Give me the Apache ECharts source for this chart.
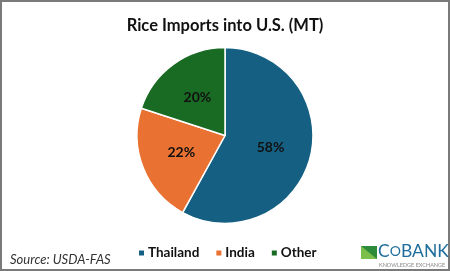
<!DOCTYPE html>
<html><head><meta charset="utf-8">
<script src="https://cdn.jsdelivr.net/npm/echarts@6/dist/echarts.min.js"></script>
<style>html,body{margin:0;padding:0;background:#fff}#c{width:450px;height:271px}</style>
</head><body><div id="c"></div>
<script>
const categories = ['Thailand', 'India', 'Other'];
const shares = [58, 22, 20];
const colors = ['#156082', '#E97132', '#196B24'];

const chart = echarts.init(document.getElementById('c'), null, {renderer: 'canvas'});
chart.setOption({
  animation: false,
  backgroundColor: '#fff',
  title: {
    text: 'Rice Imports into U.S. (MT)',
    left: 'center', top: 12,
    textStyle: {fontFamily: 'Lato', fontWeight: 'bold', fontSize: 16.5, color: '#111'}
  },
  legend: {
    data: categories,
    left: 132, top: 241,
    icon: 'rect', itemWidth: 7, itemHeight: 7, itemGap: 15,
    textStyle: {fontFamily: 'Lato', fontWeight: 'bold', fontSize: 13.5, color: '#111', padding: [0,0,0,-2]}
  },
  graphic: [
    {type: 'rect', shape: {x: 1, y: 1, width: 448, height: 269}, style: {fill: 'none', stroke: '#7a7a7a', lineWidth: 2}},
    {type: 'text', left: 10, top: 253, style: {text: 'Source: USDA-FAS', fontFamily: 'Lato', fontStyle: 'italic', fontSize: 13, fill: '#333'}},
    {type: 'polygon', shape: {points: [[361,246],[377,246],[377,259],[361,259]]}, style: {fill: '#2e8b3a'}},
    {type: 'polygon', shape: {points: [[361,246],[377,259],[361,259]]}, style: {fill: '#7bbf4a'}},
    {type: 'text', left: 378, top: 242, style: {text: 'C{s|O}BANK', fontFamily: 'Lato', fontSize: 17.5, fill: '#1f6e9c', rich: {s: {fontFamily: 'Lato', fontSize: 14, fill: '#1f6e9c'}}}},
    {type: 'text', left: 379, top: 262, style: {text: 'KNOWLEDGE EXCHANGE', fontFamily: 'Lato', fontSize: 5.5, fill: '#888'}}
  ],
  series: [{
    type: 'pie',
    center: [225, 135.5],
    radius: [0, 88],
    startAngle: 90,
    clockwise: true,
    label: {show: true, position: 'inside', formatter: '{c}%', fontFamily: 'Lato', fontWeight: 'bold', fontSize: 14, color: '#111'},
    labelLine: {show: false},
    itemStyle: {borderColor: '#fff', borderWidth: 1.5},
    emphasis: {disabled: true},
    data: categories.map((n, i) => ({name: n, value: shares[i], itemStyle: {color: colors[i]}}))
  }]
});
</script></body></html>
